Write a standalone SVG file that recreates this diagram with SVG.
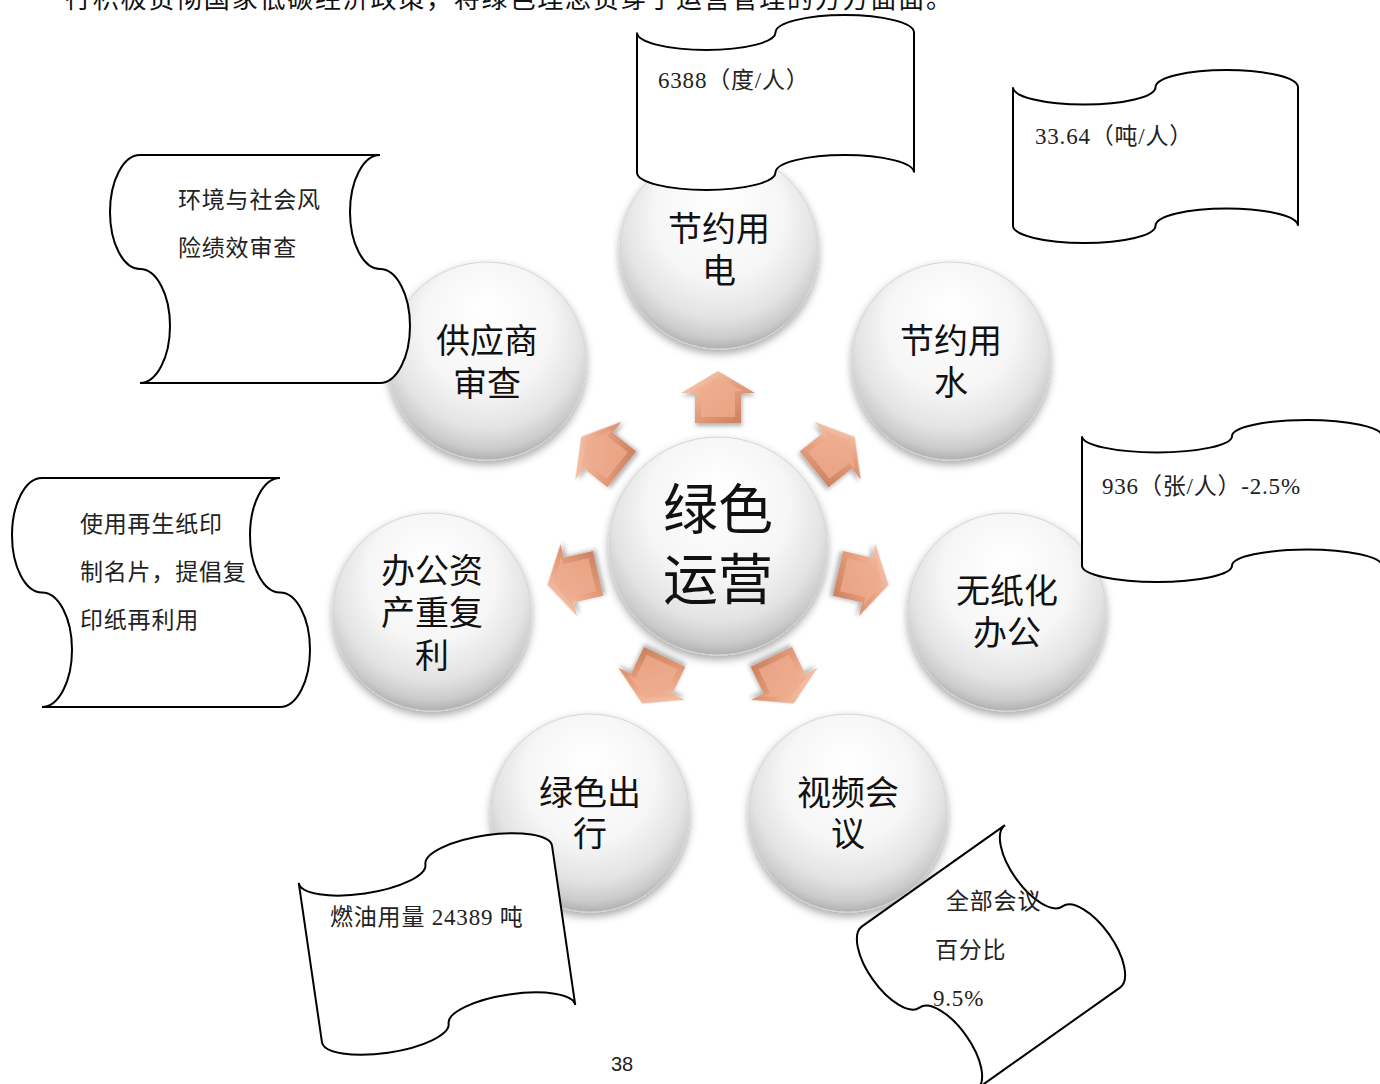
<svg xmlns="http://www.w3.org/2000/svg" width="1380" height="1084" viewBox="0 0 1380 1084">
<style>
.ball{fill:url(#ballGrad);stroke:#d4d4d4;stroke-width:1;filter:url(#ballShadow)}
.lbl{font-family:"Noto Sans CJK SC","Noto Sans CJK TC",sans-serif;font-size:34px;fill:#111;text-anchor:middle}
.big{font-family:"Noto Sans CJK SC","Noto Sans CJK TC",sans-serif;font-size:55px;fill:#111;text-anchor:middle}
.tape{fill:#fff;stroke:#000;stroke-width:2}
.bt{font-family:"Liberation Serif","Noto Sans CJK SC",serif;font-size:23px;letter-spacing:0.8px;fill:#222}
.body{font-family:"Noto Sans CJK SC",sans-serif;font-size:26px;fill:#111}
.pg{font-family:"Liberation Sans",sans-serif;font-size:20px;fill:#222;text-anchor:middle}
</style>
<defs>
<radialGradient id="ballGrad" cx="50%" cy="40%" r="60%" fx="50%" fy="22%">
<stop offset="0%" stop-color="#ffffff"/>
<stop offset="55%" stop-color="#f6f6f6"/>
<stop offset="80%" stop-color="#e3e3e3"/>
<stop offset="93%" stop-color="#cbcbcb"/>
<stop offset="100%" stop-color="#b0b0b0"/>
</radialGradient>
<filter id="ballShadow" x="-20%" y="-20%" width="140%" height="150%">
<feDropShadow dx="0" dy="4" stdDeviation="4" flood-color="#000" flood-opacity="0.35"/>
</filter>
<linearGradient id="arrEdge" x1="0" y1="0" x2="1" y2="1">
<stop offset="0%" stop-color="#fbd6c2"/>
<stop offset="50%" stop-color="#e89f7e"/>
<stop offset="100%" stop-color="#c47a59"/>
</linearGradient>
<linearGradient id="arrFace" x1="0" y1="0" x2="1" y2="1">
<stop offset="0%" stop-color="#f0b194"/>
<stop offset="100%" stop-color="#e9a283"/>
</linearGradient>
<filter id="arrShadow" x="-30%" y="-30%" width="160%" height="160%">
<feDropShadow dx="1" dy="3" stdDeviation="2" flood-color="#000" flood-opacity="0.3"/>
</filter>
<g id="arw">
<polygon points="0,-26 37,-4 23,-4 23,26 -23,26 -23,-4 -37,-4" fill="url(#arrEdge)" filter="url(#arrShadow)"/>
<polygon points="0,-19 25,-6 17,-6 17,20 -17,20 -17,-6 -25,-6" fill="url(#arrFace)"/>
</g>
</defs>
<rect width="1380" height="1084" fill="#fff"/>
<text class="body" x="65" y="8" textLength="887" lengthAdjust="spacing">行积极贯彻国家低碳经济政策，将绿色理念贯穿于运营管理的方方面面。</text>

<g id="connectors">
<use href="#arw" transform="translate(718,397)"/>
<use href="#arw" transform="translate(834.5,453.1) rotate(51.4)"/>
<use href="#arw" transform="translate(863.3,579.2) rotate(102.9)"/>
<use href="#arw" transform="translate(782.6,680.2) rotate(154.3)"/>
<use href="#arw" transform="translate(653.4,680.2) rotate(205.7)"/>
<use href="#arw" transform="translate(572.7,579.2) rotate(257.1)"/>
<use href="#arw" transform="translate(601.5,453.1) rotate(308.6)"/>
</g>

<g id="node-center">
<circle class="ball" cx="718" cy="546" r="109"/>
<text class="big" x="718" y="529">绿色<tspan x="718" y="599">运营</tspan></text>
</g>
<g id="node-power">
<circle class="ball" cx="719" cy="250" r="99"/>
<text class="lbl" x="719" y="241">节约用<tspan x="719" y="283">电</tspan></text>
</g>
<g id="node-water">
<circle class="ball" cx="951" cy="361" r="99"/>
<text class="lbl" x="951" y="353">节约用<tspan x="951" y="395">水</tspan></text>
</g>
<g id="node-paperless">
<circle class="ball" cx="1007" cy="612" r="99"/>
<text class="lbl" x="1007" y="603">无纸化<tspan x="1007" y="645">办公</tspan></text>
</g>
<g id="node-video">
<circle class="ball" cx="848" cy="813" r="99"/>
<text class="lbl" x="848" y="805">视频会<tspan x="848" y="846">议</tspan></text>
</g>
<g id="node-travel">
<circle class="ball" cx="590" cy="813" r="99"/>
<text class="lbl" x="590" y="805">绿色出<tspan x="590" y="846">行</tspan></text>
</g>
<g id="node-assets">
<circle class="ball" cx="432" cy="612" r="99"/>
<text class="lbl" x="432" y="583">办公资<tspan x="432" y="625">产重复</tspan><tspan x="432" y="668">利</tspan></text>
</g>
<g id="node-supplier">
<circle class="ball" cx="487" cy="361" r="99"/>
<text class="lbl" x="487" y="353">供应商<tspan x="487" y="396">审查</tspan></text>
</g>

<g id="note-power">
<path class="tape" d="M637,32.5 A69.25 17.5 0 0 0 775.5,32.5 A69.25 17.5 0 0 1 914,32.5 L914,172.5 A69.25 17.5 0 0 0 775.5,172.5 A69.25 17.5 0 0 1 637,172.5 Z"/>
<text class="bt" x="658" y="88">6388（度/人）</text>
</g>
<g id="note-water">
<path class="tape" d="M1013,87.3 A71.25 17.3 0 0 0 1155.5,87.3 A71.25 17.3 0 0 1 1298,87.3 L1298,225.7 A71.25 17.3 0 0 0 1155.5,225.7 A71.25 17.3 0 0 1 1013,225.7 Z"/>
<text class="bt" x="1035" y="144">33.64（吨/人）</text>
</g>
<g id="note-supplier">
<path class="tape" d="M140,155 L380,155 A30 57 0 0 0 380,269 A30 57 0 0 1 380,383 L140,383 A30 57 0 0 0 140,269 A30 57 0 0 1 140,155 Z"/>
<text class="bt" x="178" y="208">环境与社会风<tspan x="178" y="256">险绩效审查</tspan></text>
</g>
<g id="note-paperless">
<path class="tape" d="M1082,436.2 A75 16.2 0 0 0 1232,436.2 A75 16.2 0 0 1 1382,436.2 L1382,565.8 A75 16.2 0 0 0 1232,565.8 A75 16.2 0 0 1 1082,565.8 Z"/>
<text class="bt" x="1102" y="494">936（张/人）-2.5%</text>
</g>
<g id="note-assets">
<path class="tape" d="M42,478 L280,478 A30 57.25 0 0 0 280,592.5 A30 57.25 0 0 1 280,707 L42,707 A30 57.25 0 0 0 42,592.5 A30 57.25 0 0 1 42,478 Z"/>
<text class="bt" x="80" y="532">使用再生纸印<tspan x="80" y="580">制名片，提倡复</tspan><tspan x="80" y="628">印纸再利用</tspan></text>
</g>
<g id="note-travel">
<path class="tape" transform="translate(437,944) rotate(-8.3)" d="M-128,-80.4 A64 20.1 0 0 0 0,-80.4 A64 20.1 0 0 1 128,-80.4 L128,80.4 A64 20.1 0 0 0 0,80.4 A64 20.1 0 0 1 -128,80.4 Z"/>
<text class="bt" x="330" y="925">燃油用量 24389 吨</text>
</g>
<g id="note-video">
<path class="tape" transform="translate(991,957) rotate(54.7)" d="M-99.5,-87.6 A49.75 21.9 0 0 0 0,-87.6 A49.75 21.9 0 0 1 99.5,-87.6 L99.5,87.6 A49.75 21.9 0 0 0 0,87.6 A49.75 21.9 0 0 1 -99.5,87.6 Z"/>
<text class="bt" x="946" y="909">全部会议<tspan x="935" y="958">百分比</tspan><tspan x="933" y="1006">9.5%</tspan></text>
</g>
<text class="pg" x="622" y="1071">38</text>
</svg>
